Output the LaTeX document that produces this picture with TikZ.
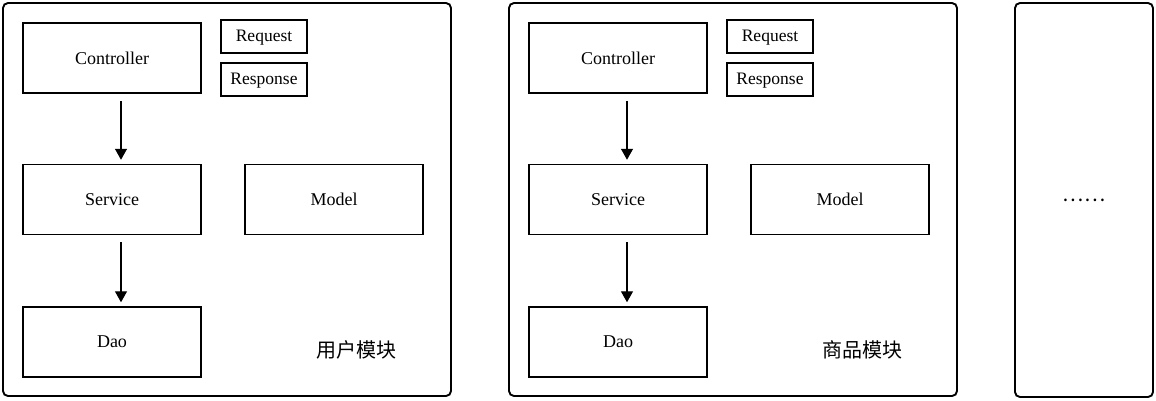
\documentclass[tikz,border=0pt]{standalone}
\usepackage{fontspec}
\setmainfont{Liberation Serif}
\newfontfamily\cjk{Noto Sans CJK SC}
\usepackage{tikz}
\usetikzlibrary{positioning}
\usetikzlibrary{arrows,arrows.meta,shapes}
\usetikzlibrary{calc}
\tikzstyle{layer}=[rectangle,draw,line width=1.5pt,minimum width=178pt,minimum height=70pt,inner sep=0pt,font=\fontsize{18}{20}\selectfont]
\tikzstyle{smalllayer}=[rectangle,draw,line width=1.5pt,minimum width=86pt,minimum height=33pt,inner sep=0pt,text depth=1pt,font=\fontsize{17.5}{20}\selectfont]
\tikzstyle{module}=[rectangle,draw,line width=1.9pt,rounded corners=5pt,inner sep=0pt]
\tikzstyle{edge} = [draw,line width=1.4pt,-{Triangle[width=12pt,length=11pt]},shorten <=7pt,shorten >=4pt]
\tikzstyle{title} = [font=\cjk\fontsize{20}{22}\selectfont]
\begin{document}
\begin{tikzpicture}[x=1pt,y=-1pt]
\useasboundingbox (0,0) rectangle (1156,400);

% two modules, same layout, shifted by \dx
\foreach \dx/\m/\title in {0/a/用户模块, 506/b/商品模块}{
    \node[module,minimum width=448pt,minimum height=393pt] (box\m) at (227+\dx,199.5) {};

    \foreach \pos/\name/\label in {{(112+\dx,58)/ctrl\m/Controller}, {(112+\dx,199.5)/serv\m/Service}, {(112+\dx,342)/dao\m/Dao}, {(334+\dx,199.5)/model\m/Model}}
        \node[layer] (\name) at \pos {\label};

    \foreach \pos/\name/\label in {{(264+\dx,36.5)/req\m/Request}, {(264+\dx,79.5)/resp\m/Response}}
        \node[smalllayer] (\name) at \pos {\label};

    % arrows between layers, a bit right of the middle
    \foreach \source/\dest in {ctrl\m/serv\m, serv\m/dao\m}
        \path[edge] ([xshift=9pt]\source.south) -- ([xshift=9pt]\dest.north);

    \node[title] (name\m) at (356+\dx,350) {\title};
}

% more modules
\node[module,minimum width=138pt,minimum height=394pt] (boxc) at (1084,200) {};
\node[title] (dots) at (boxc) {……};

\end{tikzpicture}
\end{document}
